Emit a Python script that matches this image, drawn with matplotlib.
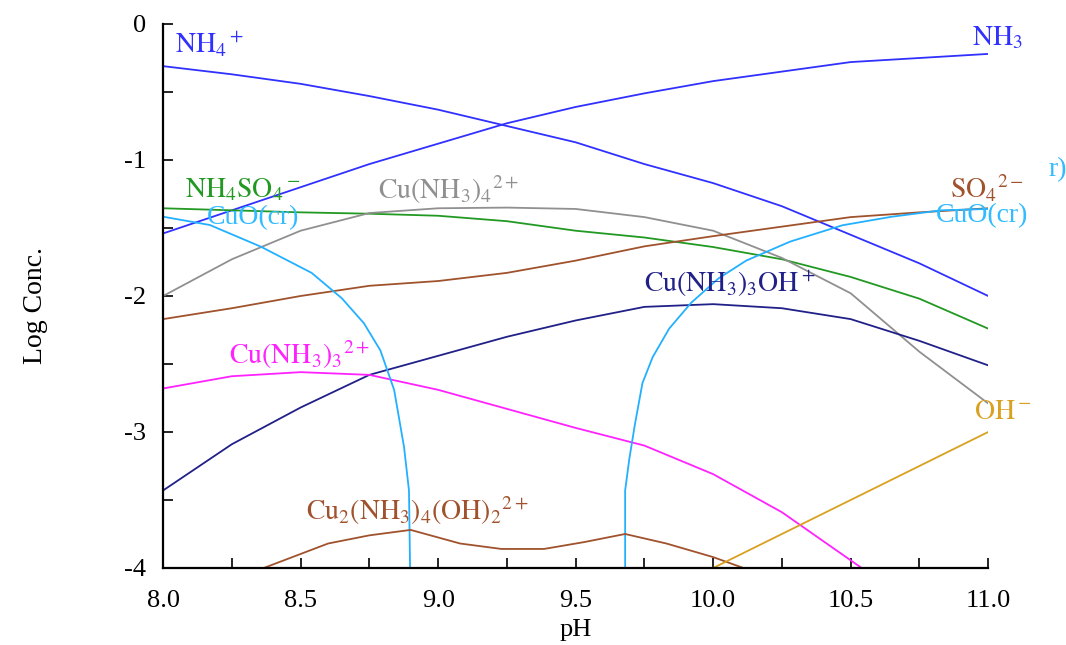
import matplotlib
matplotlib.use("Agg")
from matplotlib import pyplot as plt
from matplotlib.ticker import MultipleLocator

plt.rcParams['font.family'] = ['Liberation Serif', 'DejaVu Serif']
plt.rcParams['mathtext.fontset'] = 'stix'

# pH grid shared by most species
ph = [8.0, 8.25, 8.5, 8.75, 9.0, 9.25, 9.5, 9.75, 10.0, 10.25, 10.5, 10.75, 11.0]

nh4 = [-0.31, -0.37, -0.44, -0.53, -0.63, -0.75, -0.87, -1.03, -1.17, -1.34, -1.55, -1.76, -2.0]
nh3 = [-1.54, -1.37, -1.20, -1.03, -0.88, -0.73, -0.61, -0.51, -0.42, -0.35, -0.28, -0.25, -0.22]
nh4so4 = [-1.355, -1.37, -1.385, -1.395, -1.41, -1.45, -1.52, -1.57, -1.64, -1.73, -1.86, -2.02, -2.24]
cu_nh3_4 = [-2.0, -1.73, -1.52, -1.39, -1.355, -1.35, -1.36, -1.42, -1.52, -1.72, -1.98, -2.41, -2.79]
so4 = [-2.17, -2.09, -2.0, -1.925, -1.89, -1.83, -1.74, -1.635, -1.56, -1.49, -1.42, -1.385, -1.355]
cu_nh3_3oh = [-3.43, -3.09, -2.82, -2.58, -2.44, -2.30, -2.18, -2.08, -2.06, -2.09, -2.17, -2.33, -2.51]

# Cu(NH3)3 2+ drops below the axis near pH 10.54
ph_cu3 = [8.0, 8.25, 8.5, 8.75, 9.0, 9.25, 9.5, 9.75, 10.0, 10.25, 10.54]
cu_nh3_3 = [-2.68, -2.59, -2.56, -2.58, -2.69, -2.83, -2.97, -3.10, -3.31, -3.59, -4.0]

# CuO(cr), two branches
ph_cuo_a = [8.0, 8.17, 8.355, 8.54, 8.65, 8.73, 8.79, 8.84, 8.876, 8.894, 8.898]
cuo_a = [-1.417, -1.478, -1.637, -1.83, -2.017, -2.20, -2.40, -2.69, -3.11, -3.43, -4.0]
ph_cuo_b = [9.68, 9.68, 9.695, 9.715, 9.743, 9.78, 9.84, 9.92, 10.02, 10.12, 10.28, 10.47, 10.65, 10.83, 11.0]
cuo_b = [-4.0, -3.43, -3.20, -2.95, -2.64, -2.45, -2.24, -2.05, -1.87, -1.74, -1.60, -1.48, -1.417, -1.37, -1.36]

# Cu2(NH3)4(OH)2 2+
ph_cu2 = [8.366, 8.6, 8.75, 8.9, 9.08, 9.23, 9.385, 9.53, 9.68, 9.83, 10.0, 10.11]
cu2 = [-4.0, -3.82, -3.76, -3.72, -3.82, -3.86, -3.86, -3.81, -3.75, -3.82, -3.92, -4.0]

ph_oh = [10.0, 11.0]
oh = [-4.0, -3.0]

fig = plt.figure(figsize=(10.66, 6.45), dpi=100)
ax = fig.add_axes([0.153, 0.1194, 0.774, 0.8434])

lw = 1.3
ax.plot(ph, nh4, color='#3030ff', lw=lw)
ax.plot(ph, nh3, color='#3030ff', lw=lw)
ax.plot(ph, nh4so4, color='#229922', lw=lw)
ax.plot(ph, cu_nh3_4, color='#909090', lw=lw)
ax.plot(ph, so4, color='#a0522d', lw=lw)
ax.plot(ph, cu_nh3_3oh, color='#202088', lw=lw)
ax.plot(ph_cu3, cu_nh3_3, color='#ff22ff', lw=lw)
ax.plot(ph_cuo_a, cuo_a, color='#22b0ff', lw=lw)
ax.plot(ph_cuo_b, cuo_b, color='#22b0ff', lw=lw)
ax.plot(ph_cu2, cu2, color='#a0522d', lw=lw)
ax.plot(ph_oh, oh, color='#daa020', lw=lw)

# species labels
fs = 20
ax.text(8.045, -0.15, r'$\mathrm{NH_4{}^+}$', color='#3030ff', fontsize=fs, va='center')
ax.text(10.94, -0.1, r'$\mathrm{NH_3}$', color='#3030ff', fontsize=fs, va='center')
ax.text(8.08, -1.22, r'$\mathrm{NH_4SO_4{}^-}$', color='#229922', fontsize=fs, va='center')
ax.text(8.16, -1.42, 'CuO(cr)', color='#33bbff', fontsize=fs, va='center')
ax.text(8.78, -1.22, r'$\mathrm{Cu(NH_3)_4{}^{2+}}$', color='#909090', fontsize=fs, va='center')
ax.text(10.86, -1.21, r'$\mathrm{SO_4{}^{2-}}$', color='#a0522d', fontsize=fs, va='center')
ax.text(10.81, -1.41, 'CuO(cr)', color='#33bbff', fontsize=fs, va='center')
ax.text(11.22, -1.07, 'r)', color='#33bbff', fontsize=fs, va='center')
ax.text(9.75, -1.91, r'$\mathrm{Cu(NH_3)_3OH^+}$', color='#202088', fontsize=fs, va='center')
ax.text(8.24, -2.43, r'$\mathrm{Cu(NH_3)_3{}^{2+}}$', color='#ff22ff', fontsize=fs, va='center')
ax.text(10.95, -2.86, r'$\mathrm{OH^-}$', color='#daa020', fontsize=fs, va='center')
ax.text(8.52, -3.58, r'$\mathrm{Cu_2(NH_3)_4(OH)_2{}^{2+}}$', color='#a0522d', fontsize=fs, va='center')

ax.set_xlim(8.0, 11.0)
ax.set_ylim(-4.0, 0.0)
ax.xaxis.set_major_locator(MultipleLocator(0.5))
ax.xaxis.set_minor_locator(MultipleLocator(0.25))
ax.yaxis.set_major_locator(MultipleLocator(1.0))
ax.yaxis.set_minor_locator(MultipleLocator(0.5))
ax.set_xticks([8.0, 8.5, 9.0, 9.5, 10.0, 10.5, 11.0])
ax.set_xticklabels(['8.0', '8.5', '9.0', '9.5', '10.0', '10.5', '11.0'])
ax.set_yticks([0, -1, -2, -3, -4])
ax.set_yticklabels(['0', '-1', '-2', '-3', '-4'])
ax.tick_params(which='both', direction='in', length=7, width=1.2, labelsize=19)
ax.tick_params(axis='x', pad=16)
ax.tick_params(axis='y', pad=12)

ax.spines['top'].set_visible(False)
ax.spines['right'].set_visible(False)
ax.spines['left'].set_linewidth(1.6)
ax.spines['bottom'].set_linewidth(1.6)

ax.set_xlabel('pH', fontsize=19, labelpad=5)
fig.text(0.033, 0.527, 'Log Conc.', rotation=90, ha='center', va='center', fontsize=20)

plt.savefig("out.png", dpi=100)
